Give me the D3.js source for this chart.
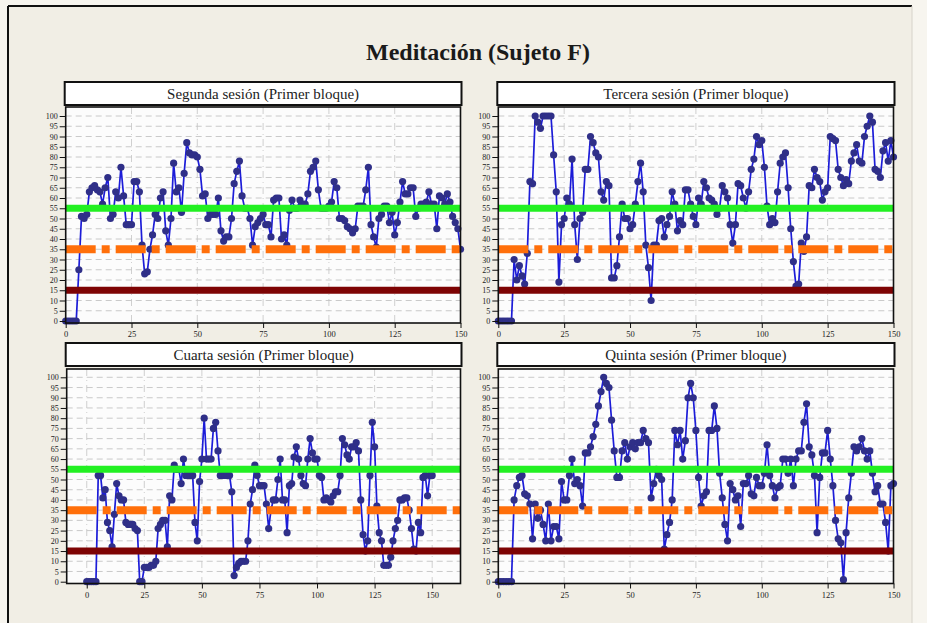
<!DOCTYPE html>
<html>
<head>
<meta charset="utf-8">
<script src="https://cdn.jsdelivr.net/npm/d3@7"></script>
<style>
  body { margin: 0; background: #f7f5ef; }
  svg { display: block; }
</style>
</head>
<body>
<div id="chart"></div>
<script>
// 1. SETUP
const width = 927;
const height = 623;

// --- DATA (one value per sample, sample index = x) ---
const segunda = [
    0, 0, 0, 0, 0, 25, 51, 50, 52, 63,
    65, 66, 64, 63, 57, 65, 70, 50, 52, 63,
    60, 75, 61, 47, 47, 47, 68, 68, 63, 37,
    23, 24, 35, 42, 52, 50, 60, 63, 44, 37,
    50, 77, 63, 65, 53, 72, 87, 82, 81, 81,
    80, 74, 61, 62, 50, 52, 52, 52, 60, 44,
    39, 41, 41, 50, 67, 73, 78, 61, 55, 55,
    50, 37, 46, 48, 50, 52, 47, 47, 41, 59,
    60, 60, 40, 42, 37, 54, 59, 55, 55, 59,
    57, 57, 62, 73, 75, 78, 64, 55, 55, 55,
    56, 58, 68, 65, 50, 50, 49, 46, 45, 43,
    45, 56, 56, 56, 64, 75, 47, 41, 36, 50,
    52, 56, 56, 48, 53, 42, 48, 58, 68, 62,
    62, 65, 65, 51, 55, 57, 57, 58, 63, 57,
    57, 45, 61, 60, 57, 62, 58, 51, 48, 45,
    35
];
const tercera = [
    0, 0, 0, 0, 0, 0, 30, 20, 27, 22,
    18, 33, 68, 67, 100, 97, 94, 100, 100, 100,
    100, 81, 63, 19, 47, 50, 60, 57, 79, 47,
    30, 50, 53, 74, 74, 90, 87, 82, 80, 63,
    59, 68, 66, 21, 21, 27, 41, 57, 50, 50,
    45, 47, 57, 68, 77, 63, 37, 26, 10, 37,
    37, 49, 50, 41, 47, 51, 63, 57, 44, 49,
    47, 64, 64, 57, 51, 47, 60, 57, 68, 65,
    60, 59, 57, 52, 55, 66, 63, 60, 47, 38,
    47, 67, 66, 60, 55, 63, 74, 79, 90, 86,
    88, 75, 56, 47, 50, 48, 63, 77, 80, 82,
    65, 45, 29, 17, 18, 38, 34, 41, 66, 65,
    74, 70, 68, 59, 63, 65, 90, 89, 88, 74,
    70, 66, 69, 67, 78, 82, 86, 78, 77, 90,
    95, 100, 97, 74, 73, 70, 83, 87, 78, 88,
    80
];
const cuarta = [
    0, 0, 0, 0, 0, 52, 52, 41, 45, 29,
    25, 17, 33, 48, 42, 40, 40, 29, 28, 28,
    28, 26, 25, 0, 0, 7, 7, 7, 8, 8,
    10, 26, 28, 30, 30, 17, 42, 40, 57, 55,
    55, 48, 60, 52, 52, 52, 52, 29, 20, 49,
    60, 80, 60, 60, 60, 75, 78, 64, 52, 52,
    52, 52, 52, 44, 3, 7, 9, 10, 10, 10,
    20, 38, 45, 57, 52, 47, 47, 47, 38, 26,
    35, 40, 40, 50, 60, 40, 40, 24, 47, 48,
    61, 66, 60, 52, 48, 47, 60, 70, 63, 60,
    60, 52, 51, 40, 41, 40, 39, 42, 44, 44,
    52, 70, 67, 62, 60, 66, 66, 68, 64, 40,
    23, 15, 20, 52, 78, 66, 37, 24, 20, 8,
    8, 8, 12, 20, 26, 30, 40, 40, 41, 41,
    35, 26, 16, 15, 29, 24, 51, 52, 42, 52,
    52
];
const quinta = [
    0, 0, 0, 0, 0, 0, 40, 47, 51, 52,
    43, 42, 38, 21, 38, 31, 35, 28, 20, 38,
    20, 27, 27, 21, 49, 40, 40, 52, 60, 48,
    50, 47, 37, 63, 63, 66, 71, 77, 86, 93,
    100, 97, 95, 79, 64, 51, 51, 64, 68, 60,
    66, 68, 65, 68, 68, 74, 70, 68, 41, 48,
    55, 52, 50, 16, 23, 29, 40, 74, 67, 74,
    60, 69, 90, 97, 90, 74, 51, 37, 42, 44,
    74, 74, 86, 75, 53, 41, 28, 20, 48, 45,
    40, 42, 27, 48, 48, 52, 43, 42, 51, 47,
    47, 53, 67, 52, 47, 41, 46, 47, 60, 60,
    53, 60, 47, 60, 64, 64, 78, 87, 66, 62,
    52, 24, 51, 63, 63, 74, 60, 47, 30, 21,
    19, 1, 24, 41, 53, 66, 64, 66, 70, 64,
    60, 64, 53, 44, 47, 38, 38, 29, 15, 47,
    48
];

// reference levels
const levelHigh = 55;
const levelMid = 35;
const levelLow = 15;

// tick labels
const yTicks = [0, 5, 10, 15, 20, 25, 30, 35, 40, 45, 50, 55, 60, 65, 70, 75, 80, 85, 90, 95, 100];
const xTicks = [0, 25, 50, 75, 100, 125, 150];

const mainTitle = "Meditación (Sujeto F)";
const panelTitles = [
    "Segunda sesión (Primer bloque)",
    "Tercera sesión (Primer bloque)",
    "Cuarta sesión (Primer bloque)",
    "Quinta sesión (Primer bloque)"
];

// --- PANEL LAYOUT ---
const panels = [
    { title: panelTitles[0], values: segunda, xDomain: [0, 150], left: 65.7, right: 460.5, top: 107, bottom: 323, y0: 321, y100: 116, boxTop: 82 },
    { title: panelTitles[1], values: tercera, xDomain: [0, 150], left: 498.3, right: 893.5, top: 107, bottom: 323, y0: 321, y100: 116, boxTop: 82 },
    { title: panelTitles[2], values: cuarta, xDomain: [-8.7, 162.3], left: 66.7, right: 460.5, top: 369, bottom: 583.5, y0: 581.7, y100: 377.3, boxTop: 343 },
    { title: panelTitles[3], values: quinta, xDomain: [0, 150], left: 498.3, right: 893.5, top: 369, bottom: 583.5, y0: 581.7, y100: 377.3, boxTop: 343 }
];

const svg = d3.select("#chart")
    .append("svg")
    .attr("width", width)
    .attr("height", height)
    .attr("viewBox", [0, 0, width, height]);

// page + frame
svg.append("rect")
    .attr("x", 8).attr("y", 6)
    .attr("width", 904).attr("height", height - 6)
    .attr("fill", "#f1eee5");
svg.append("line")
    .attr("x1", 8).attr("x2", 912).attr("y1", 6).attr("y2", 6)
    .attr("stroke", "#111").attr("stroke-width", 2);
svg.append("line")
    .attr("x1", 8).attr("x2", 8).attr("y1", 6).attr("y2", height)
    .attr("stroke", "#111").attr("stroke-width", 2);
svg.append("line")
    .attr("x1", 912).attr("x2", 912).attr("y1", 6).attr("y2", height)
    .attr("stroke", "#d6d3ca").attr("stroke-width", 1);

// main title
svg.append("text")
    .attr("x", 478)
    .attr("y", 60)
    .attr("text-anchor", "middle")
    .attr("font-family", "'Liberation Serif', 'Times New Roman', serif")
    .attr("font-weight", "bold")
    .attr("font-size", "24px")
    .attr("fill", "#1a1a1a")
    .text(mainTitle);

// --- DRAW EACH PANEL ---
function drawPanel(p) {
    const x = d3.scaleLinear().domain(p.xDomain).range([p.left, p.right]);
    const y = d3.scaleLinear().domain([0, 100]).range([p.y0, p.y100]);
    const g = svg.append("g");

    // plot background
    g.append("rect")
        .attr("x", p.left).attr("y", p.top)
        .attr("width", p.right - p.left).attr("height", p.bottom - p.top)
        .attr("fill", "#fcfcfc");

    // horizontal grid (dashed)
    g.append("g")
        .selectAll("line")
        .data(yTicks.slice(1))
        .join("line")
        .attr("x1", p.left).attr("x2", p.right)
        .attr("y1", d => y(d)).attr("y2", d => y(d))
        .attr("stroke", "#bdbdbd")
        .attr("stroke-width", 0.8)
        .attr("stroke-dasharray", "6,4");

    // vertical grid
    g.append("g")
        .selectAll("line")
        .data(xTicks.filter(d => x(d) > p.left + 1 && x(d) < p.right - 1))
        .join("line")
        .attr("x1", d => x(d)).attr("x2", d => x(d))
        .attr("y1", p.top).attr("y2", p.bottom)
        .attr("stroke", "#c4c4c4")
        .attr("stroke-width", 0.8)
        .attr("stroke-dasharray", "7,4,1,4");

    // data line
    const line = d3.line()
        .x((d, i) => x(i))
        .y(d => y(d));

    g.append("path")
        .datum(p.values)
        .attr("fill", "none")
        .attr("stroke", "#1c1cd8")
        .attr("stroke-width", 1.7)
        .attr("d", line);

    g.append("g")
        .selectAll("circle")
        .data(p.values)
        .join("circle")
        .attr("cx", (d, i) => x(i))
        .attr("cy", d => y(d))
        .attr("r", 3.6)
        .attr("fill", "#2f2f88");

    // reference levels (drawn over the data)
    g.append("line")
        .attr("x1", p.left).attr("x2", p.right)
        .attr("y1", y(levelHigh)).attr("y2", y(levelHigh))
        .attr("stroke", "#22f022")
        .attr("stroke-width", 7);

    g.append("line")
        .attr("x1", p.left).attr("x2", p.right)
        .attr("y1", y(levelMid)).attr("y2", y(levelMid))
        .attr("stroke", "#ff6f0a")
        .attr("stroke-width", 8)
        .attr("stroke-dasharray", "30,6,8,6");

    g.append("line")
        .attr("x1", p.left).attr("x2", p.right)
        .attr("y1", y(levelLow)).attr("y2", y(levelLow))
        .attr("stroke", "#7d0303")
        .attr("stroke-width", 7);

    // frame
    g.append("rect")
        .attr("x", p.left).attr("y", p.top)
        .attr("width", p.right - p.left).attr("height", p.bottom - p.top)
        .attr("fill", "none")
        .attr("stroke", "#111")
        .attr("stroke-width", 1.6);

    // axes
    g.append("g")
        .attr("transform", `translate(${p.left},0)`)
        .call(d3.axisLeft(y).tickValues(yTicks).tickSize(6).tickPadding(2))
        .call(a => a.select(".domain").remove())
        .call(a => a.selectAll("line").attr("stroke", "#111"))
        .call(a => a.selectAll("text")
            .attr("font-family", "'Liberation Serif', serif")
            .attr("font-size", "8px")
            .attr("fill", "#222"));

    g.append("g")
        .attr("transform", `translate(0,${p.bottom})`)
        .call(d3.axisBottom(x).tickValues(xTicks).tickSize(5).tickPadding(3))
        .call(a => a.select(".domain").remove())
        .call(a => a.selectAll("line").attr("stroke", "#111"))
        .call(a => a.selectAll("text")
            .attr("font-family", "'Liberation Serif', serif")
            .attr("font-size", "8.5px")
            .attr("fill", "#222"));

    // title box
    g.append("rect")
        .attr("x", p.left - 1).attr("y", p.boxTop)
        .attr("width", p.right - p.left + 2).attr("height", 23)
        .attr("fill", "#ffffff")
        .attr("stroke", "#111")
        .attr("stroke-width", 2);

    g.append("text")
        .attr("x", (p.left + p.right) / 2)
        .attr("y", p.boxTop + 17)
        .attr("text-anchor", "middle")
        .attr("font-family", "'Liberation Serif', 'Times New Roman', serif")
        .attr("font-size", "15px")
        .attr("fill", "#222")
        .text(p.title);
}

panels.forEach(drawPanel);
</script>
</body>
</html>
